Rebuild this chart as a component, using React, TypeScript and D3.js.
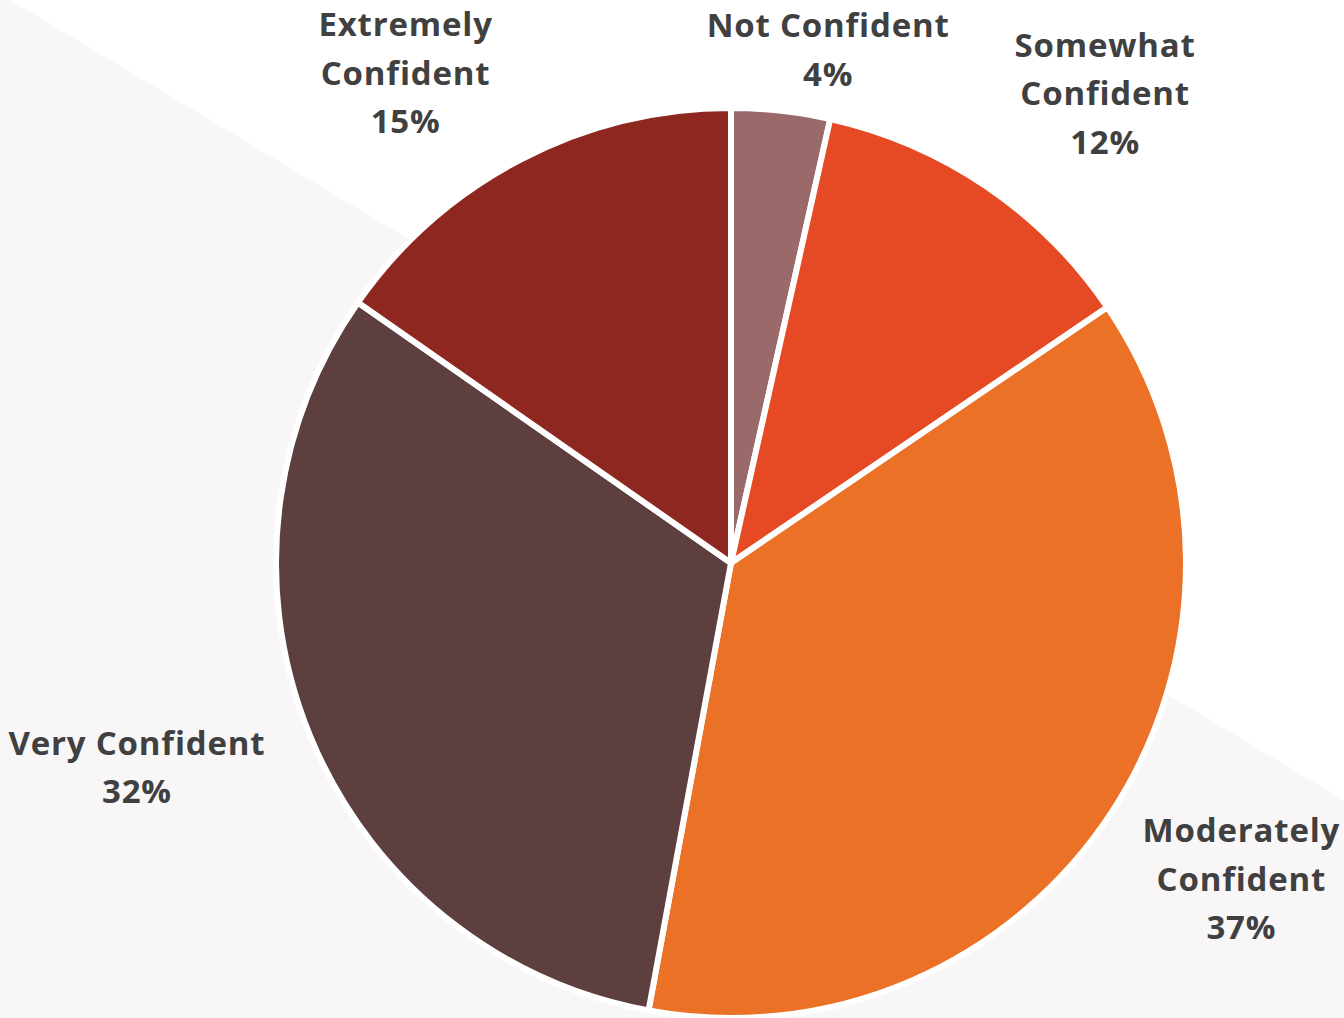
import React, { useEffect, useRef } from 'react';
import * as d3 from 'd3';

const categories = [
  'Not Confident',
  'Somewhat Confident',
  'Moderately Confident',
  'Very Confident',
  'Extremely Confident',
];
// share of respondents (%)
const shares = [3.5, 12.0, 37.4, 31.8, 15.3];
// how each category label is broken into lines
const labelLines = [
  ['Not Confident'],
  ['Somewhat', 'Confident'],
  ['Moderately', 'Confident'],
  ['Very Confident'],
  ['Extremely', 'Confident'],
];
const colors = ['#9a6a6a', '#e64a25', '#ea7125', '#5c3f3e', '#8d2720'];

// label placement: angle nudge (deg) from slice mid-angle, distance past the rim (px)
const labelNudge = [4.4, 4.3, -1.4, 3.4, -6.0];
const labelGap = [68, 146, 145, 173, 134];

const W = 1344;
const H = 1018;

const App: React.FC = () => {
  const svgRef = useRef<SVGSVGElement>(null);

  useEffect(() => {
    if (!svgRef.current) return;
    const svg = d3.select(svgRef.current);
    svg.selectAll('*').remove();

    // decorative background band
    const slope = 0.6;
    const x0 = 10;
    svg.append('polygon')
      .attr('points', [
        [0, 0], [x0, 0], [W, (W - x0) * slope], [W, H], [0, H],
      ].map(p => p.join(',')).join(' '))
      .attr('fill', '#f8f6f7');

    const cx = 731;
    const cy = 563;
    const radius = 455;

    const data = categories.map((c, i) => ({ name: c, value: shares[i], i }));
    const pie = d3.pie<typeof data[0]>().sort(null).value(d => d.value);
    const arcs = pie(data);
    const arc = d3.arc<d3.PieArcDatum<typeof data[0]>>()
      .innerRadius(0)
      .outerRadius(radius);

    const g = svg.append('g').attr('transform', `translate(${cx},${cy})`);

    g.selectAll('path')
      .data(arcs)
      .enter()
      .append('path')
      .attr('d', arc)
      .attr('fill', d => colors[d.data.i])
      .attr('stroke', '#ffffff')
      .attr('stroke-width', 6)
      .attr('stroke-linejoin', 'round');

    // labels
    const fontSize = 33;
    const lineH = 48.5;
    const capH = 23;
    arcs.forEach(d => {
      const i = d.data.i;
      const mid = (d.startAngle + d.endAngle) / 2 + (labelNudge[i] * Math.PI) / 180;
      const dist = radius + labelGap[i];
      const lx = Math.sin(mid) * dist;
      const ly = -Math.cos(mid) * dist;
      const lines = [...labelLines[i], `${Math.round(d.data.value)}%`];
      const blockH = (lines.length - 1) * lineH + capH;
      const firstBase = ly - blockH / 2 + capH + 1;
      const t = g.append('text')
        .attr('text-anchor', 'middle')
        .attr('fill', '#404040')
        .attr('font-family', '"Open Sans", Lato, sans-serif')
        .attr('font-weight', 700)
        .attr('font-size', fontSize)
        .attr('letter-spacing', 0.8);
      lines.forEach((ln, k) => {
        t.append('tspan')
          .attr('x', lx)
          .attr('y', firstBase + k * lineH)
          .text(ln);
      });
    });
  }, []);

  return (
    <>
      <style>{'body{margin:0}'}</style>
      <svg ref={svgRef} width={W} height={H} style={{ display: 'block' }} />
    </>
  );
};

export default App;
